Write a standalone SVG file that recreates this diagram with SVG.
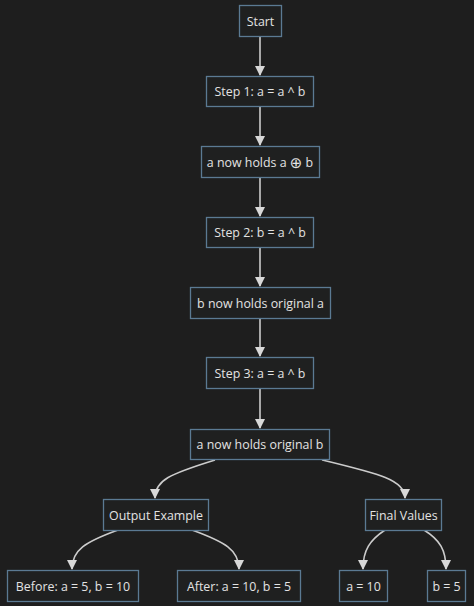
<svg xmlns="http://www.w3.org/2000/svg" width="474" height="606" viewBox="0 0 474 606">
<style>
.bg{fill:#1e1e1e}
.node rect{fill:#1f2020;stroke:#5b7a93;stroke-width:1.3}
.node text{fill:#e3e3e3;font-family:"Open Sans","DejaVu Sans",sans-serif;font-size:12.4px;text-anchor:middle;dominant-baseline:central}
.edge{fill:none;stroke:#cccccc;stroke-width:1.6}
.sym{font-size:15px}
</style>
<defs>
<marker id="arrow" viewBox="0 0 10 10" refX="9" refY="5" markerWidth="10" markerHeight="10" markerUnits="userSpaceOnUse" orient="auto">
<path d="M0,0 L10,5 L0,10 z" fill="#d8d8d8"/>
</marker>
</defs>
<rect class="bg" x="0" y="0" width="474" height="606"/>
<g id="connectors">
<path class="edge" d="M260,36 L260,75" marker-end="url(#arrow)"/>
<path class="edge" d="M260,106 L260,145" marker-end="url(#arrow)"/>
<path class="edge" d="M260,177 L260,216" marker-end="url(#arrow)"/>
<path class="edge" d="M260,247 L260,286" marker-end="url(#arrow)"/>
<path class="edge" d="M260,318 L260,356" marker-end="url(#arrow)"/>
<path class="edge" d="M260,388 L260,428" marker-end="url(#arrow)"/>
<path class="edge" d="M215,460 C170,474 155,480 155,498" marker-end="url(#arrow)"/>
<path class="edge" d="M322,460 C380,474 405,480 405,498" marker-end="url(#arrow)"/>
<path class="edge" d="M118,530 C85,542 72,550 72,569" marker-end="url(#arrow)"/>
<path class="edge" d="M192,530 C225,542 239,550 239,569" marker-end="url(#arrow)"/>
<path class="edge" d="M385,530 C370,540 363,550 363,569" marker-end="url(#arrow)"/>
<path class="edge" d="M424,530 C440,540 446,550 446,569" marker-end="url(#arrow)"/>
</g>
<g id="start" class="node"><rect x="239.5" y="5.5" width="42" height="31"/><text x="260.5" y="21">Start</text></g>
<g id="step1" class="node"><rect x="206.5" y="76.5" width="107" height="30"/><text x="260" y="91.5">Step 1: a = a ^ b</text></g>
<g id="holds1" class="node"><rect x="201.5" y="146.5" width="118" height="31"/><text x="260" y="162">a now holds a <tspan class="sym">⊕</tspan> b</text></g>
<g id="step2" class="node"><rect x="206.5" y="217.5" width="107" height="30"/><text x="260" y="232.5">Step 2: b = a ^ b</text></g>
<g id="holds2" class="node"><rect x="190.5" y="287.5" width="140" height="31"/><text x="260.5" y="303">b now holds original a</text></g>
<g id="step3" class="node"><rect x="206.5" y="357.5" width="107" height="31"/><text x="260" y="373">Step 3: a = a ^ b</text></g>
<g id="holds3" class="node"><rect x="190.5" y="429.5" width="139" height="30"/><text x="260" y="444.5">a now holds original b</text></g>
<g id="output" class="node"><rect x="103.5" y="499.5" width="105" height="31"/><text x="156" y="515">Output Example</text></g>
<g id="final" class="node"><rect x="365.5" y="499.5" width="76" height="31"/><text x="403.5" y="515">Final Values</text></g>
<g id="before" class="node"><rect x="7.5" y="570.5" width="131" height="31"/><text x="73" y="586">Before: a = 5, b = 10</text></g>
<g id="after" class="node"><rect x="177.5" y="570.5" width="123" height="31"/><text x="239" y="586">After: a = 10, b = 5</text></g>
<g id="a10" class="node"><rect x="339.5" y="570.5" width="48" height="31"/><text x="363.5" y="586">a = 10</text></g>
<g id="b5" class="node"><rect x="427.5" y="570.5" width="38" height="31"/><text x="446.5" y="586">b = 5</text></g>
</svg>
